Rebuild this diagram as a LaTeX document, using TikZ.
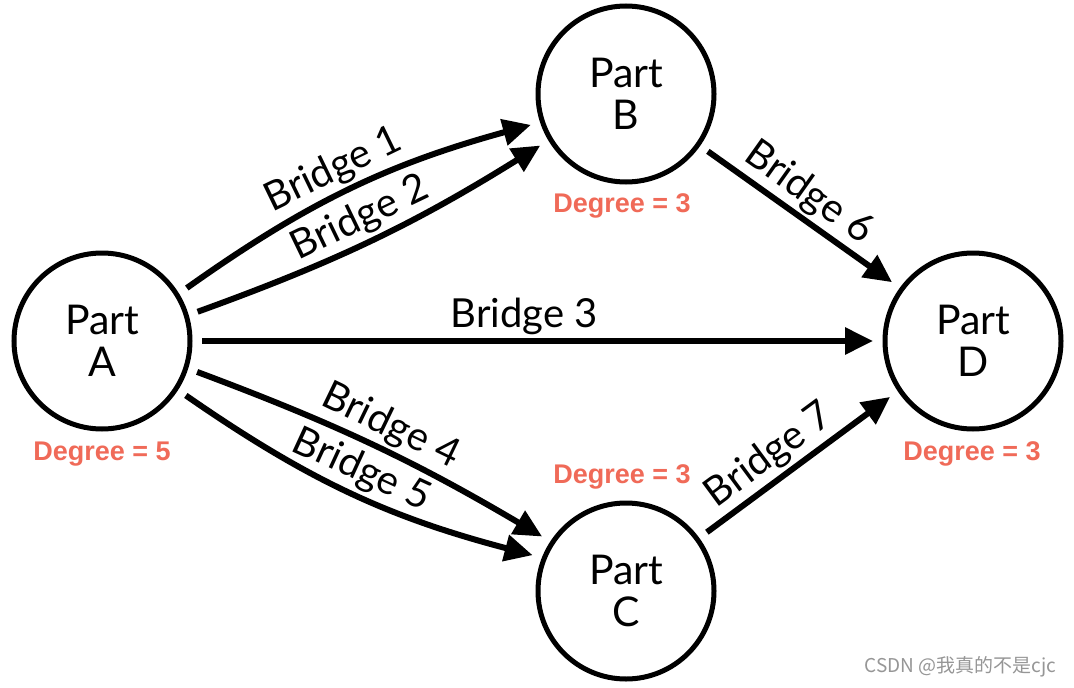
\documentclass[tikz,border=0pt]{standalone}
\usepackage{fontspec}
\setmainfont{Lato}
\newfontfamily\degfont{Liberation Sans}
\newfontfamily\cjk{Noto Sans CJK SC}
\usetikzlibrary{arrows.meta}
\definecolor{degred}{RGB}{240,106,88}
\definecolor{wmgray}{RGB}{150,150,150}
\begin{document}
\begin{tikzpicture}[x=1pt,y=-1pt,
  part/.style={circle,draw,line width=5pt,minimum size=176pt,inner sep=0pt,outer sep=12pt,align=center,font=\fontsize{41}{42}\selectfont},
  deg/.style={text=degred,font=\degfont\bfseries\fontsize{27}{30}\selectfont},
  bridge/.style={line width=6pt,-{Triangle[length=28pt,width=26pt]}},
  blabel/.style={sloped,above,inner sep=3pt,font=\fontsize{40}{44}\selectfont}]
\useasboundingbox (0,0) rectangle (1074,688);
\fill[white] (0,0) rectangle (1074,688);
\node[part] (A) at (102,341) {Part\\A};
\node[part] (B) at (626,94) {Part\\B};
\node[part] (C) at (626,591) {Part\\C};
\node[part] (D) at (973,341) {Part\\D};
\node[deg] (dA) at (102,454) {Degree = 5};
\node[deg] (dB) at (622,206) {Degree = 3};
\node[deg] (dC) at (622,477) {Degree = 3};
\node[deg] (dD) at (972,454) {Degree = 3};
\draw[bridge] (A.32) to[bend left=10] node[blabel,pos=0.48] {Bridge 1} (B.198);
\draw[bridge] (A.17) to[bend right=6] node[blabel,pos=0.49] {Bridge 2} (B.211);
\draw[bridge] (A.0) -- node[blabel,pos=0.48] {Bridge 3} (D.180);
\draw[bridge] (A.342) to[bend left=5] node[blabel,pos=0.52] {Bridge 4} (C.147);
\draw[bridge] (A.327) to[bend right=10] node[blabel,pos=0.5] {Bridge 5} (C.159);
\draw[bridge] (B.325) -- node[blabel,pos=0.47] {Bridge 6} (D.144);
\draw[bridge] (C.36) -- node[blabel,pos=0.42] {Bridge 7} (D.214);
\node[anchor=east,text=wmgray,font=\cjk\fontsize{19}{22}\selectfont] (wm) at (1060,667) {CSDN @我真的不是cjc};
\end{tikzpicture}
\end{document}
